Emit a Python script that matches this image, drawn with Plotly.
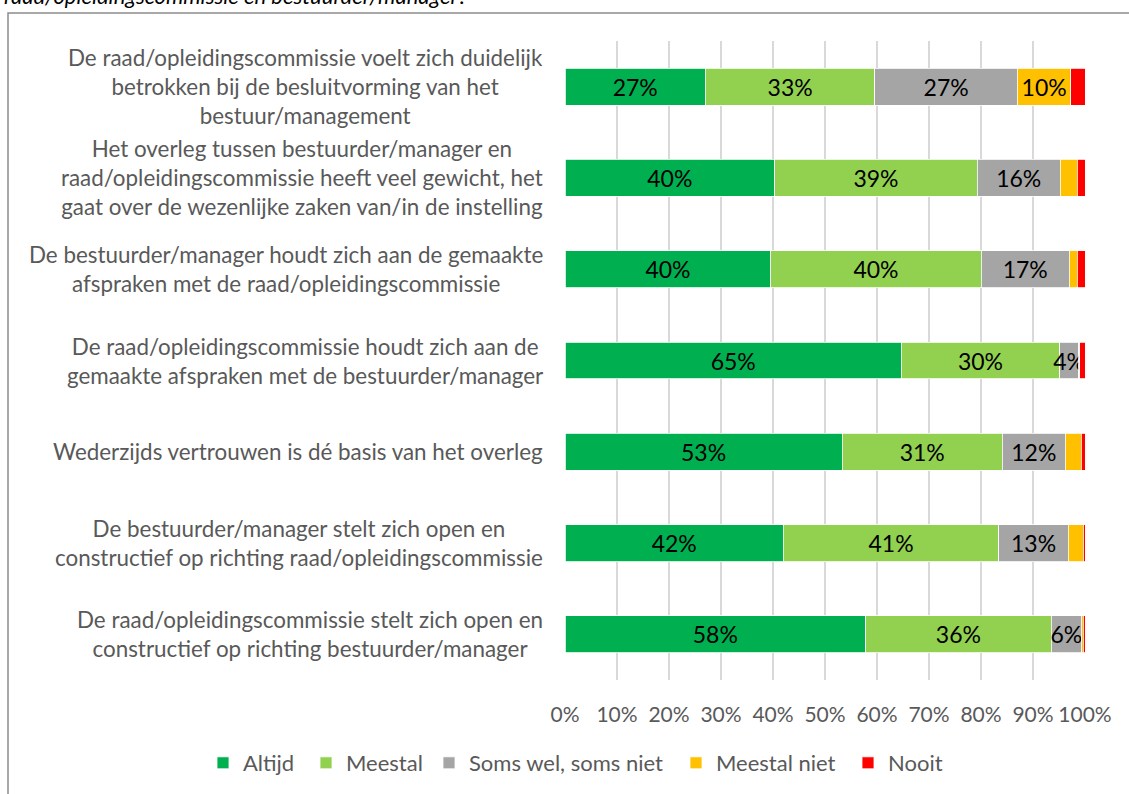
import plotly.graph_objects as go

categories = [
    "De raad/opleidingscommissie voelt zich duidelijk<br>betrokken bij de besluitvorming van het<br>bestuur/management",
    "Het overleg tussen bestuurder/manager en<br>raad/opleidingscommissie heeft veel gewicht, het<br>gaat over de wezenlijke zaken van/in de instelling",
    "De bestuurder/manager houdt zich aan de gemaakte<br>afspraken met de raad/opleidingscommissie",
    "De raad/opleidingscommissie houdt zich aan de<br>gemaakte afspraken met de bestuurder/manager",
    "Wederzijds vertrouwen is dé basis van het overleg",
    "De bestuurder/manager stelt zich open en<br>constructief op richting raad/opleidingscommissie",
    "De raad/opleidingscommissie stelt zich open en<br>constructief op richting bestuurder/manager",
]

series_names = ["Altijd", "Meestal", "Soms wel, soms niet", "Meestal niet", "Nooit"]
altijd = [27.0, 40.3, 39.6, 64.7, 53.3, 42.0, 57.8]
meestal = [32.6, 39.0, 40.4, 30.4, 30.8, 41.4, 35.7]
soms = [27.4, 15.9, 17.0, 3.7, 12.1, 13.4, 5.8]
meestal_niet = [10.3, 3.3, 1.5, 0.2, 3.1, 2.9, 0.4]
nooit = [2.7, 1.5, 1.5, 1.0, 0.7, 0.3, 0.3]

tick_values = [0, 10, 20, 30, 40, 50, 60, 70, 80, 90, 100]
tick_labels = [f"{v}%" for v in tick_values]

colors = ["#00B050", "#92D050", "#A5A5A5", "#FFC000", "#FF0000"]
legend_text_px = [241, 344, 467, 714, 886]  # where each legend label starts
FONT = "Lato"

W, H = 1129, 794
L, R, T, B = 565, 44, 41, 114
pw, ph = W - L - R, H - T - B


def px_to_paper_x(px):
    return (px - L) / pw


def px_to_paper_y(py):
    return (H - B - py) / ph


fig = go.Figure()
legend_layouts = {}
for k, (name, vals, col) in enumerate(zip(series_names, [altijd, meestal, soms, meestal_niet, nooit], colors)):
    texts = [f"{round(v)}%" if v >= 3.5 else "" for v in vals]
    lg = "legend" if k == 0 else f"legend{k + 1}"
    fig.add_trace(go.Bar(
        name=name,
        y=list(range(len(categories))),
        x=vals,
        orientation="h",
        marker=dict(color=col, line=dict(color="white", width=0.8)),
        text=texts,
        textposition="inside",
        insidetextanchor="middle",
        textangle=0,
        textfont=dict(family=FONT, size=23, color="#000000"),
        hoverinfo="skip",
        legend=lg,
    ))
    legend_layouts[lg] = dict(
        orientation="h",
        x=px_to_paper_x(legend_text_px[k] - 38), xanchor="left",
        y=px_to_paper_y(763), yanchor="middle",
        font=dict(family=FONT, size=22, color="#595959"),
        itemwidth=30,
        bgcolor="rgba(0,0,0,0)",
    )

annotations = []
for i, cat in enumerate(categories):
    annotations.append(dict(
        x=0, xref="paper", y=i, yref="y",
        text=cat, showarrow=False,
        xanchor="right", yanchor="middle", align="center",
        xshift=-20,
        font=dict(family=FONT, size=22.4, color="#595959"),
    ))

annotations.append(dict(
    x=px_to_paper_x(2), xref="paper", y=px_to_paper_y(-5), yref="paper",
    text="<i>raad/opleidingscommissie en bestuurder/manager?</i>",
    showarrow=False, xanchor="left", yanchor="middle",
    font=dict(family=FONT, size=22, color="#000000"),
))

fig.update_layout(
    width=W, height=H,
    margin=dict(l=L, r=R, t=T, b=B, pad=0, autoexpand=False),
    barmode="stack",
    bargap=0.595,
    plot_bgcolor="white",
    paper_bgcolor="white",
    font=dict(family=FONT, color="#595959"),
    uniformtext=dict(mode="show", minsize=23),
    showlegend=True,
    xaxis=dict(
        range=[0, 100],
        tickvals=tick_values,
        ticktext=tick_labels,
        showgrid=True,
        gridcolor="#D9D9D9",
        gridwidth=2,
        zeroline=False,
        showline=False,
        ticks="",
        ticklabelstandoff=20,
        tickfont=dict(family=FONT, size=21, color="#595959"),
        fixedrange=True,
    ),
    yaxis=dict(
        range=[len(categories) - 0.5, -0.5],
        showticklabels=False,
        showgrid=False,
        zeroline=False,
        ticks="",
        fixedrange=True,
    ),
    annotations=annotations,
    shapes=[dict(
        type="rect", xref="paper", yref="paper",
        x0=px_to_paper_x(8), x1=px_to_paper_x(1140),
        y0=px_to_paper_y(13), y1=px_to_paper_y(810),
        line=dict(color="#8C8C8C", width=1.5),
        fillcolor="rgba(0,0,0,0)", layer="below",
    )],
    **legend_layouts,
)

fig.write_html(
    "out.html",
    config={"displayModeBar": False},
    post_script="document.body.style.margin='0';document.body.style.overflow='hidden';",
)
